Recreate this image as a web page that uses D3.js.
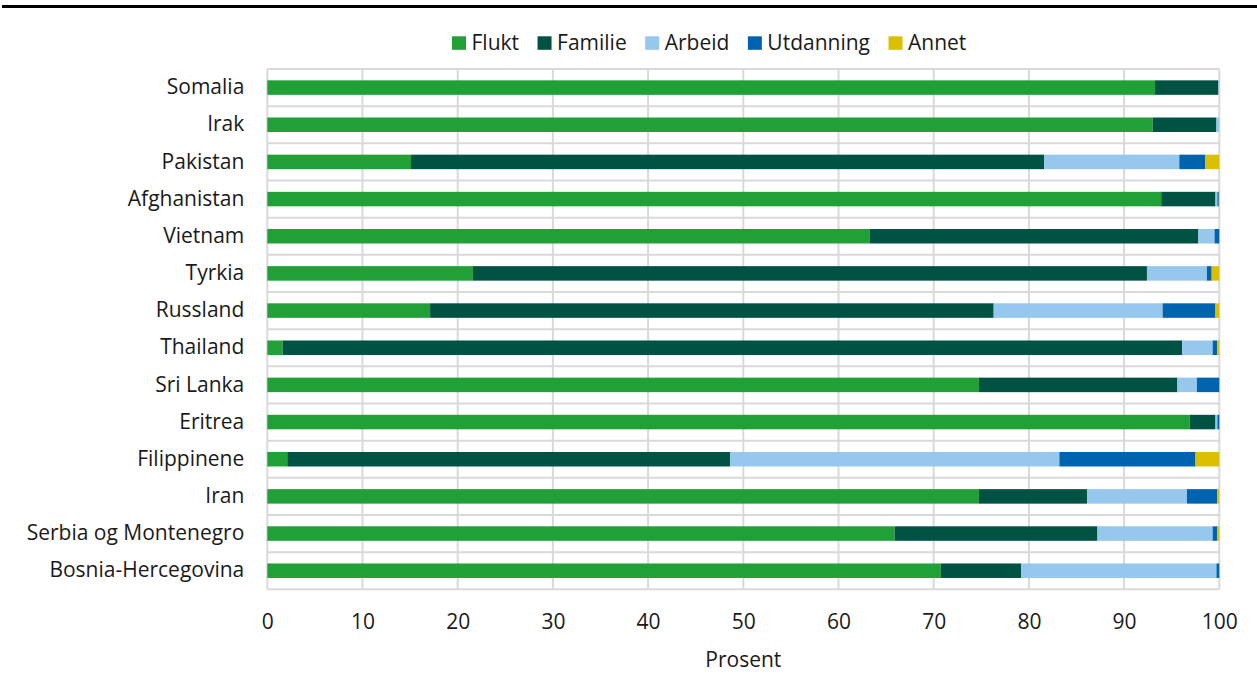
<!DOCTYPE html>
<html><head><meta charset="utf-8">
<script src="https://cdn.jsdelivr.net/npm/d3@7"></script>
<style>body{margin:0;background:#fff;} text{font-family:"Open Sans",sans-serif;fill:#1a1a1a;}</style>
</head><body>
<svg id="chart" width="1257" height="677"></svg>
<script>
const categories = ["Somalia","Irak","Pakistan","Afghanistan","Vietnam","Tyrkia","Russland","Thailand","Sri Lanka","Eritrea","Filippinene","Iran","Serbia og Montenegro","Bosnia-Hercegovina"];
const seriesNames = ["Flukt","Familie","Arbeid","Utdanning","Annet"];
const flukt     = [93.25, 93.0, 15.1, 93.9, 63.3, 21.6, 17.1, 1.6, 74.75, 96.9, 2.1, 74.75, 65.9, 70.75];
const familie   = [6.65, 6.7, 66.5, 5.7, 34.5, 70.8, 59.2, 94.5, 20.85, 2.7, 46.5, 11.35, 21.3, 8.45];
const arbeid    = [0.1, 0.3, 14.2, 0.2, 1.7, 6.3, 17.75, 3.2, 2.05, 0.2, 34.6, 10.5, 12.1, 20.5];
const utdanning = [0.0, 0.0, 2.7, 0.15, 0.5, 0.5, 5.55, 0.5, 2.35, 0.2, 14.3, 3.2, 0.5, 0.3];
const annet     = [0.0, 0.0, 1.5, 0.05, 0.0, 0.8, 0.4, 0.2, 0.0, 0.0, 2.5, 0.2, 0.2, 0.0];
const xTicks = [0,10,20,30,40,50,60,70,80,90,100];
const colors = ["#21a038","#005242","#96c7ec","#0063af","#dac000"];

(function(){
const FS = "21px";
const seriesVals = [flukt, familie, arbeid, utdanning, annet];
const rows = categories.map((c,i)=>{const o={cat:c}; seriesNames.forEach((s,j)=>o[s]=seriesVals[j][i]); return o;});
const stack = d3.stack().keys(seriesNames)(rows);

const svg = d3.select("#chart");
const pl = 267.3, pr = 1219.3, pt = 69, pb = 589.3;
const x = d3.scaleLinear().domain([0,100]).range([pl,pr]);
const y = d3.scaleBand().domain(categories).range([pt,pb]).paddingInner(0).paddingOuter(0);

svg.append("rect").attr("x",2).attr("y",5).attr("width",1255).attr("height",3).attr("fill","#000");

const g = svg.append("g");
g.selectAll("line.v").data(xTicks).join("line").attr("class","v")
  .attr("x1",d=>x(d)).attr("x2",d=>x(d)).attr("y1",pt).attr("y2",pb)
  .attr("stroke","#d9d9d9").attr("stroke-width",2);
const hb = categories.map(c=>y(c)).concat([pb]);
g.selectAll("line.h").data(hb).join("line").attr("class","h")
  .attr("x1",pl).attr("x2",pr).attr("y1",d=>d).attr("y2",d=>d)
  .attr("stroke","#d9d9d9").attr("stroke-width",2);

const barH = 14.5;
svg.append("g").selectAll("g").data(stack).join("g")
  .attr("fill",(d,i)=>colors[i])
  .selectAll("rect").data(d=>d).join("rect")
  .attr("x",d=>x(d[0])).attr("width",d=>Math.max(0,x(d[1])-x(d[0])))
  .attr("y",d=>y(d.data.cat)+y.bandwidth()/2-barH/2).attr("height",barH);

const yAxis = d3.axisLeft(y).tickSize(0).tickPadding(23);
const ya = svg.append("g").attr("transform",`translate(${pl},0)`).call(yAxis);
ya.select(".domain").remove();
ya.selectAll("text").style("font-size",FS).style("font-family","Open Sans").attr("fill","#1a1a1a");

const xAxis = d3.axisBottom(x).tickValues(xTicks).tickSize(0).tickPadding(25).tickFormat(d3.format("d"));
const xa = svg.append("g").attr("transform",`translate(0,${pb})`).call(xAxis);
xa.select(".domain").remove();
xa.selectAll("text").style("font-size",FS).style("font-family","Open Sans").attr("fill","#1a1a1a");

svg.append("text").attr("x",(pl+pr)/2).attr("y",667).attr("text-anchor","middle")
  .style("font-size",FS).text("Prosent");

const legend = svg.append("g");
let lx = 452;
seriesNames.forEach((s,i)=>{
  legend.append("rect").attr("x",lx).attr("y",36.3).attr("width",14).attr("height",13.5).attr("fill",colors[i]);
  const t = legend.append("text").attr("x",lx+19.5).attr("y",50).style("font-size",FS).text(s);
  lx += 19.5 + t.node().getComputedTextLength() + 18.5;
});
})();
</script>
</body></html>
